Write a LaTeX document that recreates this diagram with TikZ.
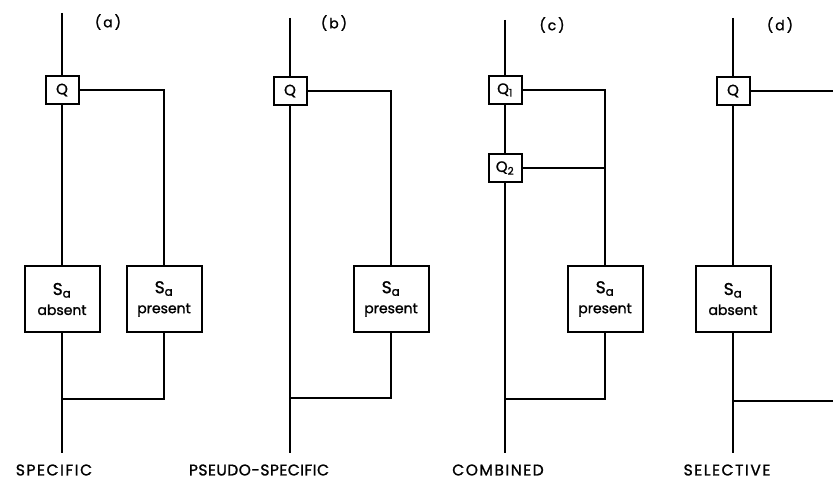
\documentclass[tikz,border=0pt]{standalone}
\usepackage{fontspec}
\setmainfont{Poppins}[FakeBold=1.3]
\newfontfamily\spaced{Poppins}[FakeBold=1.3,LetterSpace=10]
\newfontfamily\tight{Poppins}[FakeBold=1.3,LetterSpace=3]
\begin{document}
\begin{tikzpicture}[x=1pt,y=-1pt,
  wire/.style={line width=1.3pt},
  qbox/.style={draw,line width=2pt,minimum width=33pt,minimum height=28pt,inner sep=0pt,font=\fontsize{15}{15}\selectfont},
  sbox/.style={draw,line width=2pt,minimum width=75pt,minimum height=66pt,inner sep=0pt,align=center,font=\fontsize{14}{15}\selectfont},
  tag/.style={font=\fontsize{14}{14}\selectfont},
  captext/.style={inner sep=0pt,font=\spaced\fontsize{15.5}{15.5}\selectfont}
]
\useasboundingbox (0,0) rectangle (833,481);
\newcommand{\Sa}{{\fontsize{17}{17}\selectfont S\textsubscript{a}}}
% ---------- panel (a)
\node[tag] (la) at (108,22) {(\kern2pt a\kern2pt)};
\coordinate (ta) at (62,13);
\node[qbox] (qa) at (62,90) {Q};
\node[sbox] (sa1) at (62,299) {\Sa\\[5pt]absent};
\node[sbox] (sa2) at (164,299) {\Sa\\[5pt]present};
\coordinate (ja) at (62,399);
\coordinate (ba) at (62,453);
\draw[wire] (ta) -- (qa);
\draw[wire] (qa) -- (sa1);
\draw[wire] (qa.east) -| (sa2.north);
\draw[wire] (sa1) -- (ba);
\draw[wire] (sa2.south) |- (ja);
\node[captext] (ca) at (54,470) {SPECIFIC};
% ---------- panel (b)
\node[tag] (lb) at (334,23) {(\kern2pt b\kern2pt)};
\coordinate (tb) at (290,18);
\node[qbox] (qb) at (290,91) {Q};
\node[sbox] (sb) at (391,299) {\Sa\\[5pt]present};
\coordinate (jb) at (290,398);
\coordinate (bb) at (290,453);
\draw[wire] (tb) -- (qb);
\draw[wire] (qb) -- (bb);
\draw[wire] (qb.east) -| (sb.north);
\draw[wire] (sb.south) |- (jb);
\node[captext,font=\tight\fontsize{15.5}{15.5}\selectfont] (cb) at (259,470) {PSEUDO-SPECIFIC};
% ---------- panel (c)
\node[tag] (lc) at (552,25) {(\kern2pt c\kern2pt)};
\coordinate (tc) at (505,20);
\node[qbox] (qc1) at (505,90) {Q\textsubscript{1}};
\node[qbox] (qc2) at (505,168) {Q\textsubscript{2}};
\node[sbox] (sc) at (605,299) {\Sa\\[5pt]present};
\coordinate (kc) at (605,168);
\coordinate (jc) at (505,399);
\coordinate (bc) at (505,453);
\draw[wire] (tc) -- (qc1);
\draw[wire] (qc1) -- (qc2);
\draw[wire] (qc2) -- (bc);
\draw[wire] (qc1.east) -| (sc.north);
\draw[wire] (qc2.east) -- (kc);
\draw[wire] (sc.south) |- (jc);
\node[captext] (cc) at (498,470) {COMBINED};
% ---------- panel (d)
\node[tag] (ld) at (780,25) {(\kern2pt d\kern2pt)};
\coordinate (td) at (733,18);
\node[qbox] (qd) at (733,91) {Q};
\node[sbox] (sd) at (733,299) {\Sa\\[5pt]absent};
\coordinate (rd1) at (833,91);
\coordinate (jd) at (733,401);
\coordinate (rd2) at (833,401);
\coordinate (bd) at (733,453);
\draw[wire] (td) -- (qd);
\draw[wire] (qd) -- (sd);
\draw[wire] (qd.east) -- (rd1);
\draw[wire] (sd) -- (bd);
\draw[wire] (jd) -- (rd2);
\node[captext] (cd) at (727,470) {SELECTIVE};
\end{tikzpicture}
\end{document}
